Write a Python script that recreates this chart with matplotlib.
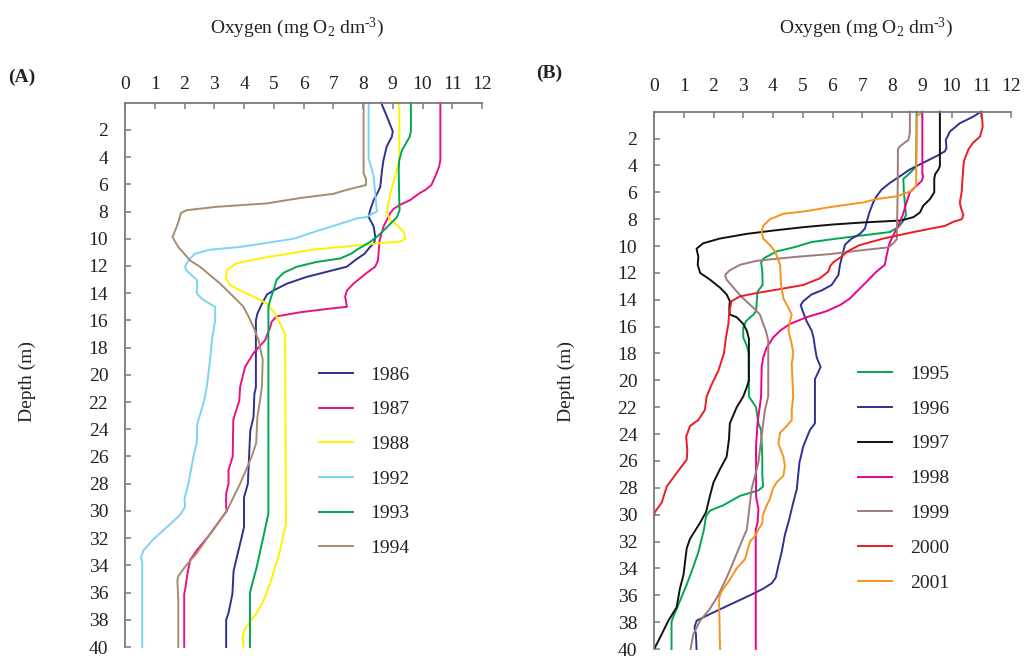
import matplotlib
matplotlib.use("Agg")
import matplotlib.pyplot as plt

plt.rcParams['font.family'] = ['Liberation Serif', 'DejaVu Serif']
plt.rcParams['mathtext.fontset'] = 'custom'
plt.rcParams['mathtext.rm'] = 'Liberation Serif'
plt.rcParams['mathtext.it'] = 'Liberation Serif:italic'
plt.rcParams['mathtext.default'] = 'regular'

# ---------------- Panel A: oxygen profiles 1986-1994 ----------------
depth_1986 = [0, 1.0, 2.1, 2.5, 3.2, 4.2, 4.95, 6.2, 6.7, 7.15, 7.9, 8.4, 9.1, 9.85, 10.3, 10.6, 11.1, 11.6,
              12.05, 12.3, 12.8, 13.3, 13.8, 14.1, 14.8, 15.5, 16.0, 20.9, 21.4, 21.9, 23.1, 24.1, 28.0, 29.0,
              31.2, 32.4, 34.4, 36.1, 37.5, 38.0, 40]
o2_1986 = [8.61, 8.8, 9.0, 8.97, 8.8, 8.69, 8.64, 8.58, 8.47, 8.36, 8.24, 8.19, 8.36, 8.41, 8.38, 8.24, 8.05, 7.72,
           7.46, 7.01, 6.11, 5.44, 4.99, 4.77, 4.6, 4.45, 4.4, 4.4, 4.35, 4.34, 4.32, 4.21, 4.13, 4.0,
           4.0, 3.87, 3.65, 3.61, 3.48, 3.4, 3.4]

depth_1987 = [0, 4.2, 4.7, 5.4, 6.05, 6.4, 6.7, 7.15, 7.5, 7.8, 8.1, 9.1, 10.1, 11.6, 12.05, 12.5, 13.3, 13.8,
              14.25, 15.0, 15.1, 15.4, 15.7, 16.1, 16.5, 17.45, 18.4, 19.4, 19.9, 20.9, 21.9, 23.3, 26.0, 27.0,
              28.0, 28.7, 29.7, 30.0, 31.7, 32.9, 33.6, 34.6, 35.8, 36.1, 40]
o2_1987 = [10.6, 10.6, 10.56, 10.43, 10.3, 10.1, 9.87, 9.59, 9.25, 9.03, 8.92, 8.69, 8.56, 8.5, 8.41, 8.13, 7.68, 7.46,
           7.4, 7.46, 7.01, 5.89, 5.1, 4.93, 4.88, 4.71, 4.32, 4.04, 3.98, 3.87, 3.84, 3.64, 3.62, 3.48,
           3.48, 3.4, 3.4, 3.42, 2.86, 2.41, 2.19, 2.1, 2.02, 1.99, 1.99]

depth_1988 = [0, 4.2, 5.4, 6.7, 7.65, 8.1, 8.6, 9.1, 9.6, 10.0, 10.2, 10.3, 10.45, 10.6, 10.8, 11.1, 11.3, 11.6,
              11.8, 12.3, 12.9, 13.4, 13.8, 14.25, 14.75, 15.5, 16.0, 16.5, 17.0, 31.0, 31.7, 32.9, 34.1, 35.3,
              36.6, 37.5, 38.3, 38.8, 39.3, 40]
o2_1988 = [9.22, 9.22, 9.08, 8.92, 8.83, 8.8, 8.92, 9.2, 9.39, 9.42, 9.25, 8.69, 8.0, 7.3, 6.3, 5.5, 4.9, 4.2,
           3.75, 3.42, 3.4, 3.53, 3.87, 4.32, 4.77, 5.05, 5.16, 5.27, 5.38, 5.41, 5.33, 5.21, 5.05, 4.88,
           4.65, 4.43, 4.15, 4.0, 3.96, 3.98]

depth_1992 = [0, 4.1, 5.4, 6.7, 7.65, 8.0, 8.1, 8.4, 8.5, 8.9, 9.2, 9.6, 10.0, 10.3, 10.6, 10.8, 11.1, 11.6,
              12.05, 12.3, 12.8, 13.0, 13.5, 14.0, 14.4, 14.8, 15.0, 16.0, 17.45, 18.9, 20.9, 21.9, 23.6, 25.0,
              26.0, 28.0, 29.1, 29.7, 30.3, 31.2, 32.1, 32.9, 33.4, 33.8, 40]
o2_1992 = [8.19, 8.19, 8.36, 8.41, 8.45, 8.47, 8.36, 8.13, 7.8, 7.23, 6.79, 6.22, 5.66, 4.77, 3.87, 2.86, 2.35, 2.13,
           2.02, 2.05, 2.3, 2.41, 2.43, 2.41, 2.58, 2.86, 3.03, 3.03, 2.92, 2.86, 2.75, 2.66, 2.43, 2.41,
           2.3, 2.13, 2.0, 2.02, 1.85, 1.4, 0.95, 0.62, 0.54, 0.58, 0.58]

depth_1993 = [0, 2.1, 2.5, 3.5, 4.2, 4.95, 7.4, 7.9, 8.4, 8.9, 9.4, 9.85, 10.3, 10.8, 11.1, 11.45, 11.7, 12.05,
              12.5, 13.0, 13.8, 14.5, 15.0, 30.2, 32.2, 34.1, 36.0, 40]
o2_1993 = [9.61, 9.61, 9.57, 9.31, 9.22, 9.2, 9.22, 9.23, 9.14, 8.92, 8.69, 8.47, 8.19, 7.8, 7.6, 7.23, 6.45, 5.78,
           5.33, 5.1, 4.99, 4.88, 4.82, 4.82, 4.62, 4.43, 4.2, 4.2]

depth_1994 = [0, 5.2, 5.6, 6.05, 6.4, 6.7, 7.0, 7.4, 7.65, 7.9, 8.1, 8.6, 9.1, 9.85, 10.2, 10.6, 11.6, 12.05,
              13.3, 14.5, 15.0, 15.7, 16.5, 17.45, 18.9, 20.9, 21.9, 23.1, 25.0, 26.0, 28.0, 30.0, 31.7, 33.1,
              34.1, 34.8, 35.1, 36.5, 40]
o2_1994 = [8.02, 8.02, 8.1, 8.1, 7.46, 7.0, 5.9, 4.77, 3.08, 2.07, 1.88, 1.82, 1.74, 1.6, 1.68, 1.79, 2.19, 2.52,
           3.2, 3.76, 3.98, 4.15, 4.32, 4.49, 4.63, 4.6, 4.54, 4.45, 4.41, 4.26, 3.87, 3.42, 2.86, 2.41,
           2.02, 1.79, 1.76, 1.79, 1.79]

# ---------------- Panel B: oxygen profiles 1995-2001 ----------------
depth_1995 = [0, 4.05, 4.3, 4.8, 5.0, 6.0, 7.0, 7.7, 8.2, 8.6, 8.96, 9.2, 9.45, 9.7, 10.1, 10.4, 10.9, 11.2,
              11.9, 12.9, 13.4, 14.85, 15.1, 15.6, 16.1, 16.8, 17.55, 18.0, 21.2, 22.0, 23.2, 23.7, 25.7, 27.1,
              27.9, 28.2, 28.6, 29.3, 29.7, 30.1, 31.1, 32.8, 34.2, 35.2, 36.7, 37.7, 38.0, 40]
o2_1995 = [8.83, 8.81, 8.72, 8.49, 8.38, 8.4, 8.44, 8.47, 8.36, 8.21, 7.93, 7.04, 6.14, 5.3, 4.7, 4.12, 3.7, 3.6,
           3.64, 3.65, 3.48, 3.43, 3.34, 3.09, 3.0, 3.0, 3.14, 3.18, 3.19, 3.43, 3.51, 3.6, 3.64, 3.64,
           3.67, 3.5, 2.89, 2.33, 1.88, 1.75, 1.68, 1.49, 1.27, 1.1, 0.82, 0.63, 0.59, 0.59]

depth_1996 = [0, 0.37, 0.86, 1.47, 2.1, 2.7, 2.95, 3.3, 3.8, 4.3, 4.8, 5.3, 5.8, 6.3, 6.75, 7.5, 8.2, 8.7,
              9.1, 9.45, 9.9, 10.4, 10.9, 11.4, 12.15, 12.9, 13.3, 13.6, 14.1, 14.4, 14.85, 15.6, 16.3, 16.8,
              17.55, 18.3, 19.0, 19.4, 19.9, 23.2, 23.7, 24.9, 26.1, 27.4, 28.1, 29.1, 30.3, 31.5, 32.8, 33.8,
              34.7, 35.1, 35.5, 36.0, 36.7, 37.4, 37.9, 38.4, 38.9, 40]
o2_1996 = [10.99, 10.73, 10.28, 9.95, 9.81, 9.83, 9.78, 9.5, 9.05, 8.6, 8.27, 7.93, 7.65, 7.48, 7.37, 7.24, 7.15, 7.09,
           6.92, 6.64, 6.42, 6.36, 6.31, 6.25, 6.2, 5.97, 5.64, 5.3, 5.02, 4.93, 5.0, 5.13, 5.3, 5.36,
           5.41, 5.47, 5.6, 5.52, 5.41, 5.41, 5.24, 5.02, 4.89, 4.83, 4.8, 4.68, 4.55, 4.4, 4.29, 4.18,
           4.09, 3.96, 3.68, 3.23, 2.55, 1.88, 1.43, 1.36, 1.41, 1.43]

depth_1997 = [0, 4.05, 4.3, 4.66, 5.0, 6.0, 6.5, 7.0, 7.5, 7.85, 8.1, 8.25, 8.4, 8.6, 8.85, 9.1, 9.45, 9.8,
              10.2, 10.8, 11.4, 12.0, 12.5, 13.1, 13.6, 14.1, 14.6, 15.1, 15.3, 15.8, 16.3, 16.9, 20.0, 20.5,
              21.2, 22.0, 23.2, 24.4, 25.7, 26.6, 27.6, 28.6, 29.8, 30.6, 31.8, 32.5, 34.5, 35.5, 36.9, 37.9,
              38.9, 39.9]
o2_1997 = [9.61, 9.61, 9.56, 9.45, 9.42, 9.42, 9.28, 9.05, 8.94, 8.72, 8.3, 7.0, 6.0, 5.0, 4.0, 3.1, 2.2, 1.65,
           1.43, 1.49, 1.47, 1.55, 1.88, 2.22, 2.44, 2.55, 2.53, 2.55, 2.78, 3.0, 3.12, 3.19, 3.19, 3.12,
           3.0, 2.78, 2.55, 2.52, 2.44, 2.22, 2.0, 1.88, 1.75, 1.55, 1.21, 1.1, 0.99, 0.87, 0.76, 0.48,
           0.26, 0.03]

depth_1998 = [0, 4.66, 4.8, 5.15, 5.5, 6.0, 6.75, 7.7, 8.5, 9.2, 9.9, 10.9, 11.4, 11.9, 12.65, 13.4, 13.9, 14.4,
              14.85, 15.3, 15.8, 16.3, 16.8, 17.55, 18.3, 19.0, 21.2, 22.2, 23.2, 24.9, 28.6, 29.6, 30.6, 31.1, 40]
o2_1998 = [9.02, 9.02, 9.05, 9.0, 8.83, 8.6, 8.49, 8.36, 8.21, 8.04, 7.9, 7.8, 7.76, 7.48, 7.15, 6.81, 6.59, 6.25,
           5.8, 5.13, 4.57, 4.24, 4.01, 3.79, 3.67, 3.62, 3.6, 3.54, 3.48, 3.43, 3.43, 3.51, 3.48, 3.42, 3.42]

depth_1999 = [0, 1.6, 2.1, 2.6, 2.8, 6.0, 9.5, 9.8, 10.1, 10.3, 10.6, 10.8, 11.1, 11.4, 11.8, 12.15, 12.5, 13.1,
              13.8, 14.6, 15.1, 15.8, 16.3, 17.05, 21.2, 22.2, 23.2, 26.1, 28.1, 29.8, 31.1, 32.3, 33.5, 34.7,
              36.0, 37.0, 37.9, 38.9, 40]
o2_1999 = [8.6, 8.6, 8.55, 8.25, 8.2, 8.19, 8.16, 8.04, 7.88, 7.04, 5.92, 4.8, 3.45, 2.89, 2.55, 2.39, 2.44, 2.67,
           2.95, 3.34, 3.56, 3.67, 3.76, 3.84, 3.84, 3.73, 3.67, 3.51, 3.28, 3.19, 3.12, 2.89, 2.67, 2.44,
           2.16, 1.88, 1.55, 1.32, 1.23]

depth_2000 = [0, 1.1, 1.85, 2.3, 2.8, 3.6, 4.05, 6.0, 6.75, 7.1, 7.7, 8.0, 8.2, 8.5, 8.96, 9.45, 9.94, 10.4,
              10.8, 11.2, 11.5, 11.9, 12.4, 12.9, 13.25, 13.5, 13.75, 14.1, 14.85, 15.8, 16.8, 18.0, 19.3, 20.3,
              21.2, 22.2, 22.95, 23.4, 24.2, 25.2, 25.9, 26.9, 27.9, 29.1, 29.8, 30.1]
o2_2000 = [11.01, 11.05, 10.96, 10.73, 10.57, 10.43, 10.4, 10.34, 10.28, 10.31, 10.4, 10.35, 10.06, 9.78, 8.72, 7.7,
           6.9, 6.5, 6.3, 6.03, 5.92, 5.86, 5.58, 5.02, 4.12, 3.45, 2.89, 2.61, 2.53, 2.5, 2.42, 2.35, 2.16,
           1.94, 1.77, 1.71, 1.49, 1.21, 1.08, 1.12, 1.1, 0.76, 0.43, 0.26, 0.03, 0.0]

depth_2001 = [0, 0.37, 1.1, 5.5, 5.9, 6.3, 6.5, 6.75, 7.1, 7.4, 7.6, 8.0, 8.5, 8.96, 9.45, 9.94, 10.4, 10.9,
              11.4, 12.9, 13.9, 14.6, 15.1, 15.6, 16.3, 17.3, 18.0, 18.8, 21.2, 22.2, 22.95, 23.4, 23.9, 24.7,
              25.7, 26.4, 27.1, 27.6, 28.1, 28.8, 29.6, 30.1, 30.6, 31.1, 31.6, 32.0, 33.3, 34.0, 35.0, 35.7,
              36.2, 36.7, 40]
o2_2001 = [9.02, 8.83, 8.83, 8.81, 8.66, 8.16, 7.48, 7.04, 5.92, 5.13, 4.35, 3.9, 3.67, 3.62, 3.67, 3.9, 4.07, 4.15,
           4.24, 4.27, 4.35, 4.52, 4.63, 4.57, 4.52, 4.63, 4.68, 4.63, 4.68, 4.63, 4.63, 4.46, 4.24, 4.18,
           4.35, 4.40, 4.35, 4.12, 3.99, 3.9, 3.73, 3.65, 3.65, 3.51, 3.39, 3.23, 3.06, 2.78, 2.5, 2.27,
           2.19, 2.19, 2.22]

years_a = ['1986', '1987', '1988', '1992', '1993', '1994']
colors_a = ['#2e3192', '#ec1181', '#fff200', '#7dd3f5', '#00a651', '#a88b6c']
profiles_a = [(o2_1986, depth_1986), (o2_1987, depth_1987), (o2_1988, depth_1988),
              (o2_1992, depth_1992), (o2_1993, depth_1993), (o2_1994, depth_1994)]

years_b = ['1995', '1996', '1997', '1998', '1999', '2000', '2001']
colors_b = ['#00a651', '#2e3192', '#111111', '#ec008c', '#a07a78', '#ed1c24', '#f7931e']
profiles_b = [(o2_1995, depth_1995), (o2_1996, depth_1996), (o2_1997, depth_1997), (o2_1998, depth_1998),
              (o2_1999, depth_1999), (o2_2000, depth_2000), (o2_2001, depth_2001)]

x_ticks = list(range(0, 13))
depth_ticks = list(range(2, 41, 2))

W, H = 1029, 658
fig = plt.figure(figsize=(W / 100, H / 100), dpi=100)


def fx(px):
    return px / W


def fy(py):
    return 1 - py / H


def setup(ax):
    ax.set_xlim(0, 12)
    ax.set_ylim(40, 0)
    ax.xaxis.tick_top()
    ax.set_xticks(x_ticks)
    ax.set_yticks(depth_ticks)
    for s in ('right', 'bottom'):
        ax.spines[s].set_visible(False)
    for s in ('top', 'left'):
        ax.spines[s].set_color('#7a7a7a')
        ax.spines[s].set_linewidth(1.3)
    ax.tick_params(axis='both', direction='in', length=4, width=1.1, color='#7a7a7a',
                   labelsize=14, labelcolor='#222222')
    ax.tick_params(axis='x', pad=7)
    ax.tick_params(axis='y', pad=12)
    ax.set_facecolor('none')


# Panel A
axA = fig.add_axes([fx(125), fy(647), fx(482 - 125), (647 - 102.7) / H])
setup(axA)
for (o2, d), c, yr in zip(profiles_a, colors_a, years_a):
    axA.plot(o2, d, color=c, lw=1.4, label=yr, solid_joinstyle='round', clip_on=False)

legA = axA.legend(loc='upper left', bbox_to_anchor=(fx(319), fy(366)), bbox_transform=fig.transFigure,
                  frameon=False, fontsize=14, handlelength=1.75, handletextpad=0.9,
                  labelspacing=0.88, borderpad=0, borderaxespad=0)
for t in legA.get_texts():
    t.set_color('#222222')

# Panel B
axB = fig.add_axes([fx(654), fy(649), fx(1011 - 654), (649 - 111.7) / H])
setup(axB)
axB.tick_params(axis='x', pad=12)
for (o2, d), c, yr in zip(profiles_b, colors_b, years_b):
    axB.plot(o2, d, color=c, lw=1.4, label=yr, solid_joinstyle='round', clip_on=False)

legB = axB.legend(loc='upper left', bbox_to_anchor=(fx(858), fy(365)), bbox_transform=fig.transFigure,
                  frameon=False, fontsize=14, handlelength=1.75, handletextpad=0.95,
                  labelspacing=0.89, borderpad=0, borderaxespad=0)
for t in legB.get_texts():
    t.set_color('#222222')

# Titles, axis labels and panel letters
title = 'Oxygen (mg O$_2$ dm$^{\u20103}$)'
fig.text(fx(297), fy(28), title, ha='center', va='center', fontsize=14, color='#222222')
fig.text(fx(866), fy(28), title, ha='center', va='center', fontsize=14, color='#222222')
fig.text(fx(27), fy(382), 'Depth (m)', rotation=90, ha='center', va='center', fontsize=14, color='#222222')
fig.text(fx(566), fy(382), 'Depth (m)', rotation=90, ha='center', va='center', fontsize=14, color='#222222')
fig.text(fx(22), fy(77), '(A)', ha='center', va='center', fontsize=14, fontweight='bold', color='#222222')
fig.text(fx(549), fy(73), '(B)', ha='center', va='center', fontsize=14, fontweight='bold', color='#222222')

fig.savefig('out.png', dpi=100)
